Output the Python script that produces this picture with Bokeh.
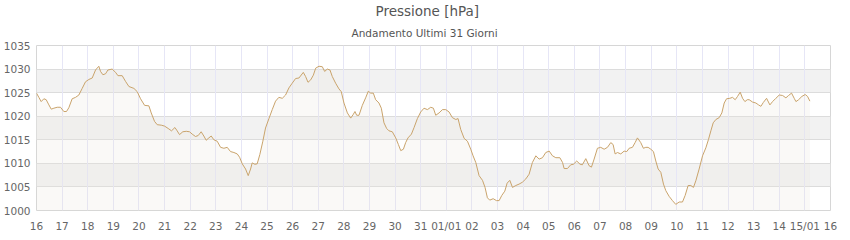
from bokeh.plotting import figure
from bokeh.models import FixedTicker, Title
from bokeh.embed import file_html
from bokeh.resources import INLINE
import numpy as np

# hours elapsed since 16 Dec 00:00
hours = [
    0, 2.2, 4.4, 6.9, 9.1, 11.6, 13.8, 16.3, 19.4, 22.5,
    25.6, 28.1, 30.3, 33.4, 36.6, 39.7, 42.8, 45.9, 49.1, 52.2,
    55.3, 58.4, 60.0, 62.2, 64.7, 66.9, 70.9, 74.1, 76.3, 80.3,
    83.4, 86.6, 91.3, 94.4, 97.5, 101.3, 105.3, 107.5, 110.6, 113.1,
    116.9, 120.0,
    123.4, 126.5, 129.7, 131.8, 134.0, 137.1, 140.3, 143.4, 145.9, 149.0,
    151.5, 154.3, 156.8, 159.0, 161.5, 163.7, 166.2, 169.3, 172.5, 175.6,
    178.7, 181.8, 185.0, 188.1, 190.3, 192.8, 195.9, 198.4, 200.6, 202.1,
    204.6, 206.8, 209.3, 212.1, 214.6, 217.8, 220.9, 224.0, 227.1, 230.3,
    233.4, 236.5, 239.6, 242.8, 245.9,
    250.0, 252.2, 254.4, 256.9, 259.4, 261.6, 264.7, 267.8, 270.0, 272.5,
    275.0, 277.2, 280.3, 283.4, 285.6, 288.1, 291.3, 294.4, 296.6, 298.4,
    300.0, 302.2, 305.3, 308.4, 310.9, 313.1, 315.6, 317.8, 320.9, 323.1,
    325.6, 328.1, 330.3, 333.4, 336.6, 339.1, 341.3, 343.8, 345.9, 348.1,
    351.3, 353.8, 356.9, 360.0, 363.1, 366.3, 369.4, 371.9,
    374.1, 377.2, 380.4, 383.5, 386.6, 389.7, 392.9, 395.0, 397.5, 400.7,
    403.8, 406.9, 409.1, 411.6, 414.7, 417.9, 420.3, 422.5, 424.7, 427.9,
    431.0, 433.5, 436.0, 438.8, 441.0, 443.5, 446.0, 449.1, 452.2, 455.3,
    458.5, 461.6, 464.7, 467.9, 471.0, 474.1, 477.2, 480.4, 483.5, 486.6,
    490.4, 492.9, 494.4, 497.5,
    500.6, 503.1, 506.2, 509.4, 511.5, 514.7, 517.8, 520.0, 522.5, 525.6,
    528.7, 531.9, 535.0, 538.1, 540.3, 542.2, 544.4, 547.5, 550.6, 553.1,
    555.3, 558.4, 560.9, 563.1, 566.2, 568.7, 570.9, 573.1, 575.6, 578.1,
    580.3, 582.5, 585.0, 587.5, 589.7, 592.8, 595.9, 599.0, 602.2, 605.3,
    607.8, 610.6, 613.1, 615.6, 617.8, 620.9, 624.1,
    627.2, 629.7, 631.9, 634.1, 636.6, 639.7, 642.2, 644.4, 646.6, 649.7,
    652.2, 654.7, 656.9, 659.4, 661.6, 663.8, 666.0, 667.8, 671.0, 674.1,
    676.6, 678.8, 681.0, 684.1, 687.2, 689.7, 692.8, 696.0, 699.1, 702.2,
    704.7, 707.5, 710.0, 711.6, 714.1, 717.2, 720.3, 722.5, 724.7,
]

pressure = [
    1024.9, 1024.0, 1023.1, 1023.7, 1023.5, 1022.4, 1021.5, 1021.7, 1021.9, 1021.9,
    1021.0, 1021.0, 1021.8, 1023.7, 1024.0, 1024.5, 1025.9, 1027.3, 1027.8, 1028.1,
    1029.8, 1030.6, 1029.5, 1028.8, 1029.0, 1029.8, 1030.0, 1029.3, 1028.6, 1028.6,
    1027.4, 1026.3, 1025.9, 1025.2, 1023.7, 1022.3, 1022.2, 1020.7, 1018.9, 1018.2,
    1018.1, 1017.9,
    1017.4, 1016.9, 1017.6, 1016.9, 1016.1, 1016.7, 1016.8, 1016.7, 1016.2, 1015.7,
    1015.9, 1016.7, 1015.8, 1014.9, 1015.4, 1015.8, 1015.0, 1014.7, 1013.4, 1013.2,
    1013.4, 1012.5, 1012.3, 1012.0, 1011.3, 1009.9, 1008.8, 1007.4, 1008.8, 1010.1,
    1009.8, 1009.9, 1011.9, 1014.7, 1017.5, 1019.5, 1021.4, 1023.2, 1024.0, 1023.8,
    1024.5, 1026.0, 1027.0, 1028.0, 1028.1,
    1029.3, 1028.4, 1027.2, 1027.7, 1028.7, 1030.2, 1030.6, 1030.5, 1029.5, 1030.0,
    1029.8, 1028.4, 1027.0, 1025.8, 1025.2, 1022.8, 1020.7, 1019.6, 1020.3, 1021.0,
    1020.2, 1020.2, 1022.3, 1023.9, 1025.3, 1024.9, 1024.9, 1023.5, 1022.8, 1021.7,
    1018.6, 1017.4, 1016.9, 1016.7, 1015.4, 1014.0, 1012.7, 1013.0, 1014.4, 1015.4,
    1016.2, 1017.6, 1019.5, 1020.9, 1021.7, 1021.4, 1021.9, 1021.7,
    1020.2, 1020.7, 1021.4, 1021.4, 1020.9, 1019.7, 1019.3, 1019.5, 1017.2, 1015.3,
    1014.7, 1013.0, 1011.6, 1010.2, 1007.4, 1006.4, 1004.9, 1002.7, 1002.2, 1002.5,
    1002.1, 1002.1, 1003.2, 1004.1, 1005.8, 1006.4, 1004.9, 1005.3, 1005.6, 1006.0,
    1006.7, 1007.7, 1010.2, 1011.6, 1010.9, 1011.2, 1012.3, 1012.6, 1011.6, 1011.2,
    1011.2, 1010.2, 1008.9, 1008.9,
    1009.7, 1009.8, 1010.5, 1009.8, 1009.7, 1011.0, 1009.5, 1009.2, 1010.9, 1013.2,
    1013.4, 1013.0, 1013.4, 1014.4, 1014.0, 1012.0, 1012.3, 1012.0, 1012.6, 1012.5,
    1013.2, 1013.4, 1014.4, 1015.4, 1014.4, 1013.2, 1013.4, 1013.4, 1013.0, 1012.5,
    1010.5, 1008.8, 1008.1, 1005.6, 1004.2, 1003.0, 1002.1, 1001.3, 1001.8, 1001.8,
    1003.2, 1005.3, 1005.3, 1004.9, 1006.3, 1008.8, 1011.6,
    1013.3, 1015.1, 1016.9, 1018.6, 1019.3, 1019.7, 1020.7, 1022.8, 1023.7, 1023.8,
    1024.0, 1023.5, 1024.2, 1025.1, 1023.8, 1023.1, 1023.5, 1023.5, 1023.0, 1022.8,
    1022.4, 1022.1, 1022.9, 1023.8, 1022.4, 1023.1, 1023.8, 1024.5, 1024.4, 1023.9,
    1024.4, 1024.9, 1023.8, 1023.1, 1023.5, 1024.2, 1024.6, 1024.2, 1023.2,
]

tick_days = list(range(32))
tick_labels = ["16", "17", "18", "19", "20", "21", "22", "23", "24", "25",
               "26", "27", "28", "29", "30", "31", "01/01", "02", "03", "04",
               "05", "06", "07", "08", "09", "10", "11", "12", "13", "14",
               "15/01", "16"]
y_ticks = [1000, 1005, 1010, 1015, 1020, 1025, 1030, 1035]

title_text = "Pressione [hPa]"
subtitle_text = "Andamento Ultimi 31 Giorni"

assert len(hours) == len(pressure)
x = np.array(hours) / 24.0

FONT = "DejaVu Sans"

p = figure(width=850, height=240, output_backend="svg", toolbar_location=None,
           x_range=(0, 31), y_range=(1000, 1035),
           min_border_left=36, min_border_right=20,
           min_border_top=44, min_border_bottom=30)
p.background_fill_color = "white"
p.border_fill_color = "white"
p.outline_line_color = "#d6d6d6"

sub = Title(text=subtitle_text, align="left", offset=315, standoff=13,
            text_font=FONT, text_font_size="10.5px", text_font_style="normal",
            text_color="#555555")
p.add_layout(sub, "above")
main = Title(text=title_text, align="left", offset=339, standoff=0,
             text_font=FONT, text_font_size="13.5px", text_font_style="normal",
             text_color="#555555")
p.add_layout(main, "above")

# grids
p.ygrid.ticker = FixedTicker(ticks=y_ticks)
p.ygrid.grid_line_color = "#dcdcdc"
p.ygrid.band_fill_color = "#f2f2f2"
p.ygrid.band_fill_alpha = 1.0
p.ygrid.level = "image"
p.xgrid.ticker = FixedTicker(ticks=tick_days)
p.xgrid.grid_line_color = "#e6e6f6"

# axes
for ax in (p.xaxis[0], p.yaxis[0]):
    ax.axis_line_color = None
    ax.major_tick_line_color = None
    ax.minor_tick_line_color = None
    ax.major_tick_out = 0
    ax.major_tick_in = 0
    ax.minor_tick_out = 0
    ax.minor_tick_in = 0
    ax.major_label_text_font = FONT
    ax.major_label_text_font_size = "10.5px"
    ax.major_label_text_color = "#666666"

p.xaxis.ticker = FixedTicker(ticks=tick_days)
p.xaxis.major_label_overrides = {d: lab for d, lab in zip(tick_days, tick_labels)}
p.xaxis.major_label_standoff = 9
p.yaxis.ticker = FixedTicker(ticks=y_ticks)
p.yaxis.major_label_overrides = {v: str(v) for v in y_ticks}
p.yaxis.major_label_standoff = 6

p.varea(x=x, y1=1000, y2=pressure, fill_color="#e9e5dc", fill_alpha=0.23)
p.line(x, pressure, line_color="#c9a36b", line_width=1)

open("out.html", "w").write(file_html(p, INLINE))
